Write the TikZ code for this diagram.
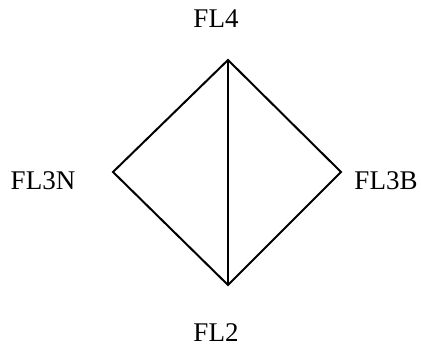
\documentclass[tikz,border=0pt]{standalone}
\usepackage{fontspec}
\setmainfont{Liberation Serif}
\begin{document}
\begin{tikzpicture}[x=1pt,y=1pt,
  lbl/.style={font=\fontsize{27}{30}\selectfont, inner sep=0pt},
  edge/.style={line width=2pt, line join=miter}]
\useasboundingbox (0,0) rectangle (421,350);
\coordinate (t) at (228,290);
\coordinate (l) at (113,178);
\coordinate (r) at (341,178);
\coordinate (b) at (228,65);
\node[lbl] (fl4) at (216,331) {FL4};
\node[lbl] (fl3n) at (43,169) {FL3N};
\node[lbl] (fl3b) at (386,169) {FL3B};
\node[lbl] (fl2) at (216,17) {FL2};
\draw[edge] (t) -- (l) -- (b) -- (r) -- cycle;
\draw[edge] (t) -- (b);
\end{tikzpicture}
\end{document}
